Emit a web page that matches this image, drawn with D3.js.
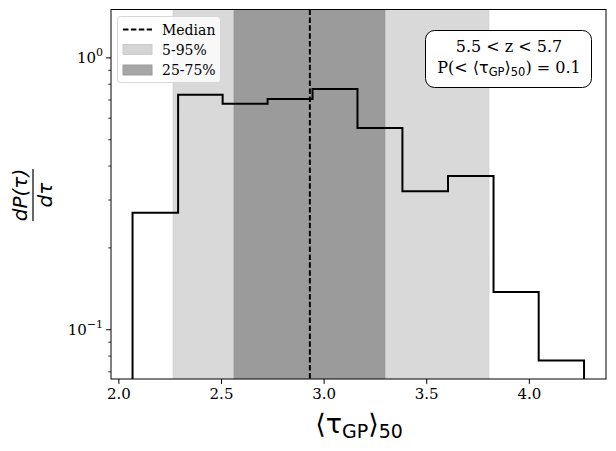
<!DOCTYPE html>
<html lang="en">
<head>
<meta charset="UTF-8">
<title>tau GP histogram</title>
<script src="https://d3js.org/d3.v7.min.js"></script>
<style>
  body { margin: 0; background: #fff; }
  text { font-family: "DejaVu Serif", serif; }
  .math { font-family: "DejaVu Sans", sans-serif; }
</style>
</head>
<body>
<div id="chart"></div>
<script>
// histogram
const binEdges = [2.069, 2.291, 2.508, 2.727, 2.946, 3.165, 3.384, 3.606, 3.828, 4.048, 4.269];
const density = [0.268, 0.729, 0.675, 0.703, 0.765, 0.550, 0.322, 0.366, 0.137, 0.0767];
const medianVal = 2.933;
const band90 = [2.267, 3.805];
const band50 = [2.564, 3.298];
const xTicks = [2.0, 2.5, 3.0, 3.5, 4.0];
const yMajor = [0.1, 1];
const yMinor = [0.07, 0.08, 0.09, 0.2, 0.3, 0.4, 0.5, 0.6, 0.7, 0.8, 0.9];
const legendItems = ["Median", "5-95%", "25-75%"];

const W = 616, H = 451;
const plot = { left: 111, top: 9.5, right: 606, bottom: 379 };

const svg = d3.select("#chart").append("svg")
    .attr("width", W).attr("height", H);

const x = d3.scaleLinear().domain([1.964, 4.376]).range([plot.left, plot.right]);
const y = d3.scaleLog().domain([0.0656, 1.50]).range([plot.bottom, plot.top]);

svg.append("clipPath").attr("id", "clip")
    .append("rect")
    .attr("x", plot.left).attr("y", plot.top)
    .attr("width", plot.right - plot.left).attr("height", plot.bottom - plot.top);

const g = svg.append("g").attr("clip-path", "url(#clip)");

// shaded percentile bands
g.append("rect")
    .attr("x", x(band90[0])).attr("y", plot.top)
    .attr("width", x(band90[1]) - x(band90[0])).attr("height", plot.bottom - plot.top)
    .attr("fill", "#d9d9d9").attr("stroke", "#cfcfcf").attr("stroke-width", 1);
g.append("rect")
    .attr("x", x(band50[0])).attr("y", plot.top)
    .attr("width", x(band50[1]) - x(band50[0])).attr("height", plot.bottom - plot.top)
    .attr("fill", "#9b9b9b").attr("stroke", "#939393").attr("stroke-width", 1);

// step outline
const pts = [[x(binEdges[0]), plot.bottom + 5]];
density.forEach((d, i) => {
    pts.push([x(binEdges[i]), y(d)]);
    pts.push([x(binEdges[i + 1]), y(d)]);
});
pts.push([x(binEdges[binEdges.length - 1]), plot.bottom + 5]);
g.append("path")
    .attr("d", d3.line()(pts))
    .attr("fill", "none").attr("stroke", "#000").attr("stroke-width", 2)
    .attr("stroke-linejoin", "miter");

// median line
g.append("line")
    .attr("x1", x(medianVal)).attr("x2", x(medianVal))
    .attr("y1", plot.top).attr("y2", plot.bottom)
    .attr("stroke", "#000").attr("stroke-width", 2)
    .attr("stroke-dasharray", "5.5,2.4");

// axes
const xAxis = d3.axisBottom(x).tickValues(xTicks).tickFormat(d3.format(".1f"))
    .tickSize(4.9).tickPadding(4);
const gx = svg.append("g").attr("transform", `translate(0,${plot.bottom})`).call(xAxis);
gx.select(".domain").remove();
gx.selectAll("text").attr("font-family", "DejaVu Serif").attr("font-size", 15).attr("fill", "#000");
gx.selectAll("line").attr("stroke", "#000").attr("stroke-width", 1);

const gy = svg.append("g").attr("transform", `translate(${plot.left},0)`)
    .call(d3.axisLeft(y).tickValues(yMajor).tickFormat("").tickSize(4.9));
gy.select(".domain").remove();
gy.selectAll("line").attr("stroke", "#000").attr("stroke-width", 1);
const gyMinor = svg.append("g").attr("transform", `translate(${plot.left},0)`)
    .call(d3.axisLeft(y).tickValues(yMinor).tickFormat("").tickSize(2.8));
gyMinor.select(".domain").remove();
gyMinor.selectAll("line").attr("stroke", "#000").attr("stroke-width", 0.8);

// y tick labels 10^0, 10^-1
yMajor.forEach(v => {
    const exp = Math.round(Math.log10(v));
    const t = svg.append("text")
        .attr("x", plot.left - 8).attr("y", y(v) + 6)
        .attr("text-anchor", "end").attr("font-size", 15).attr("fill", "#000");
    t.append("tspan").text("10");
    t.append("tspan").attr("dy", -7).attr("font-size", 11).text(exp === 0 ? "0" : "\u22121");
});

// frame
svg.append("rect")
    .attr("x", plot.left).attr("y", plot.top)
    .attr("width", plot.right - plot.left).attr("height", plot.bottom - plot.top)
    .attr("fill", "none").attr("stroke", "#000").attr("stroke-width", 1);

// x label
const xl = svg.append("text").attr("class", "math")
    .attr("x", 359).attr("y", 433).attr("text-anchor", "middle")
    .attr("font-size", 27).attr("fill", "#000");
xl.append("tspan").text("\u27E8\u03C4");
xl.append("tspan").attr("dy", 5).attr("font-size", 19).text("GP");
xl.append("tspan").attr("dy", -5).text("\u27E9");
xl.append("tspan").attr("dy", 5).attr("font-size", 19).text("50");

// y label as a rotated fraction
const yl = svg.append("g").attr("transform", "translate(33,195) rotate(-90)");
yl.append("text").attr("class", "math").attr("x", 0).attr("y", -6)
    .attr("text-anchor", "middle").attr("font-size", 20).attr("font-style", "italic")
    .text("dP(\u03C4)");
yl.append("line").attr("x1", -26).attr("x2", 26).attr("y1", 0).attr("y2", 0)
    .attr("stroke", "#000").attr("stroke-width", 1.2);
yl.append("text").attr("class", "math").attr("x", 0).attr("y", 19)
    .attr("text-anchor", "middle").attr("font-size", 20).attr("font-style", "italic")
    .text("d\u03C4");

// legend
const lg = svg.append("g");
lg.append("rect")
    .attr("x", 117.5).attr("y", 16.5).attr("width", 103).attr("height", 66).attr("rx", 3)
    .attr("fill", "#fff").attr("fill-opacity", 0.8).attr("stroke", "#d6d6d6");
const rowY = [29.5, 49.5, 70];
lg.append("line").attr("x1", 123).attr("x2", 152).attr("y1", rowY[0]).attr("y2", rowY[0])
    .attr("stroke", "#000").attr("stroke-width", 2).attr("stroke-dasharray", "5.5,2.4");
lg.append("rect").attr("x", 123).attr("y", rowY[1] - 5).attr("width", 29).attr("height", 10)
    .attr("fill", "#d5d5d5").attr("stroke", "#cccccc");
lg.append("rect").attr("x", 123).attr("y", rowY[2] - 5).attr("width", 29).attr("height", 10)
    .attr("fill", "#a6a6a6").attr("stroke", "#9c9c9c");
legendItems.forEach((s, i) => {
    lg.append("text").attr("x", 162).attr("y", rowY[i] + 5)
        .attr("font-size", 14).attr("fill", "#000").text(s);
});

// annotation box
const bx = svg.append("g");
bx.append("rect")
    .attr("x", 425.5).attr("y", 30.5).attr("width", 166).attr("height", 57).attr("rx", 9)
    .attr("fill", "#fff").attr("stroke", "#000").attr("stroke-width", 1);
bx.append("text").attr("x", 509).attr("y", 52).attr("text-anchor", "middle")
    .attr("font-size", 16).attr("fill", "#000").text("5.5 < z < 5.7");
const l2 = bx.append("text").attr("x", 509).attr("y", 73).attr("text-anchor", "middle")
    .attr("font-size", 16).attr("fill", "#000");
l2.append("tspan").text("P(< ");
l2.append("tspan").attr("class", "math").text("\u27E8\u03C4");
l2.append("tspan").attr("class", "math").attr("dy", 3).attr("font-size", 11.5).text("GP");
l2.append("tspan").attr("class", "math").attr("dy", -3).text("\u27E9");
l2.append("tspan").attr("class", "math").attr("dy", 3).attr("font-size", 11.5).text("50");
l2.append("tspan").attr("dy", -3).text(") = 0.1");
</script>
</body>
</html>
